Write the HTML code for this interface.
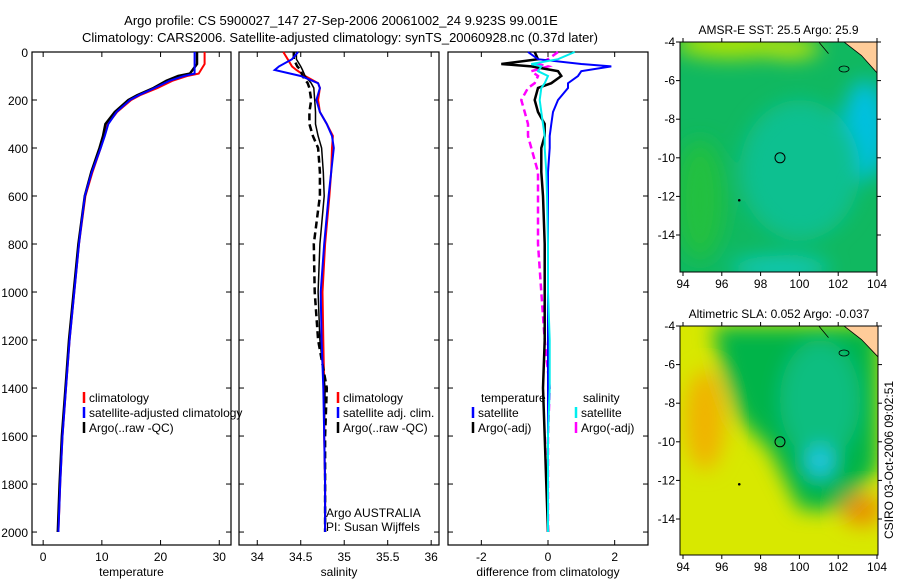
<!DOCTYPE html>
<html><head><meta charset="utf-8"><style>
body{margin:0;background:#fff;}
svg{display:block;font-family:"Liberation Sans",sans-serif;}
</style></head><body>
<svg id="fig" width="900" height="580" viewBox="0 0 900 580">
<defs>
<filter id="blur1" x="-50%" y="-50%" width="200%" height="200%"><feGaussianBlur stdDeviation="10"/></filter>
<clipPath id="m1c"><rect x="680" y="42" width="197" height="230"/></clipPath>
<clipPath id="m2c"><rect x="680" y="326" width="198" height="229"/></clipPath>
</defs>
<text x="341" y="25" font-size="13" text-anchor="middle">Argo profile: CS 5900027_147 27-Sep-2006 20061002_24 9.923S 99.001E</text>
<text x="340" y="42" font-size="13" text-anchor="middle">Climatology: CARS2006. Satellite-adjusted climatology: synTS_20060928.nc (0.37d later)</text>
<g id="maps"></g>
<g id="panels"></g>
<text transform="translate(893,460) rotate(-90)" font-size="12" text-anchor="middle">CSIRO 03-Oct-2006 09:02:51</text>
</svg>
<script>
const NS='http://www.w3.org/2000/svg';
function mk(tag,attrs,parent,txt){const e=document.createElementNS(NS,tag);for(const k in attrs)e.setAttribute(k,attrs[k]);if(txt!==undefined)e.textContent=txt;parent.appendChild(e);return e;}

// ---- data ----
const depthT=[0,50,90,100,120,150,180,200,250,300,350,400,500,600,800,1000,1200,1400,1600,1800,2000];
const tempClim=[27.5,27.5,26.5,24.5,22,19.5,16.5,15,12.6,11,10.4,9.8,8.4,7.2,6.1,5.3,4.5,3.9,3.3,2.9,2.6];
const tempSat=[25.8,25.8,25.8,24,21.5,19,16.3,14.8,12.5,11.1,10.5,9.8,8.3,7.1,6.1,5.3,4.5,3.9,3.3,2.9,2.6];
const tempArgo=[26.2,26.2,25,23,21,18.8,16,14.5,12.2,10.6,10.2,9.6,8.2,7.1,6.0,5.2,4.4,3.8,3.2,2.8,2.5];
const depthS=[0,30,60,75,100,130,150,200,250,300,350,400,500,600,800,1000,1200,1400,1600,1800,2000];
const salClim=[34.3,34.35,34.4,34.45,34.55,34.7,34.72,34.7,34.72,34.8,34.87,34.86,34.85,34.83,34.78,34.75,34.76,34.77,34.77,34.78,34.78];
const salSat=[34.47,34.4,34.25,34.2,34.5,34.7,34.72,34.68,34.72,34.8,34.86,34.88,34.85,34.82,34.77,34.73,34.74,34.76,34.77,34.78,34.78];
const salArgo=[34.45,34.45,34.5,34.52,34.55,34.62,34.65,34.66,34.67,34.67,34.7,34.74,34.76,34.77,34.72,34.7,34.72,34.78,34.77,34.78,34.78];
const salArgoRaw=[34.42,34.42,34.46,34.5,34.52,34.58,34.6,34.62,34.6,34.6,34.64,34.7,34.72,34.72,34.65,34.66,34.7,34.8,34.78,34.78,34.78];
const depthD=[0,30,50,60,80,100,130,150,200,250,300,350,400,500,600,800,1000,1200,1400,1600,1800,2000];
const dTempSat=[-0.6,-0.3,1.0,1.9,1.0,0.9,0.6,0.6,0.3,0.15,0.1,0.05,0.05,0.0,0.0,0.0,0.0,0.0,0.0,0.0,0.0,0.0];
const dTempArgo=[-0.4,-0.3,-1.4,-0.5,0.3,0.4,0.1,-0.3,-0.4,-0.3,-0.1,-0.1,-0.2,-0.2,-0.15,-0.1,-0.1,-0.1,-0.15,-0.1,-0.05,0];
const dSalSat=[0.8,0.3,-0.5,-0.2,-0.3,0,-0.1,-0.2,-0.25,-0.2,-0.15,-0.1,-0.1,-0.05,-0.03,0,0.0,0.05,0.05,0,0,0];
const dSalArgo=[0.3,0.0,-0.3,0.0,-0.5,-0.3,-0.4,-0.6,-0.8,-0.7,-0.6,-0.6,-0.5,-0.3,-0.3,-0.3,-0.2,-0.1,0.05,0,0,0];
const dTickVals=[-2,0,2];
const depthTicks=[0,200,400,600,800,1000,1200,1400,1600,1800,2000];

const Y0=52,Y1=545,DMAX=2054;
const yS=d=>Y0+(Y1-Y0)*d/DMAX;
const G=document.getElementById('panels');

function panel(name,x0,x1,vmin,vmax,ticks,xlabel,showY){
  const g=mk('g',{},G);
  
  
  const xs=v=>x0+(x1-x0)*(v-vmin)/(vmax-vmin);
  const fr=mk('rect',{x:x0,y:Y0,width:x1-x0,height:Y1-Y0,fill:'none',stroke:'#000','stroke-width':1.2},g);
  
  
  depthTicks.forEach(d=>{
    const y=yS(d);
    mk('line',{x1:x0,y1:y,x2:x0+5,y2:y,stroke:'#000'},g);
    mk('line',{x1:x1,y1:y,x2:x1-5,y2:y,stroke:'#000'},g);
    if(showY){const t=mk('text',{x:x0-4,y:y+5,'font-size':12,'text-anchor':'end'},g,String(d));
      
      }
  });
  ticks.forEach(v=>{
    const x=xs(v);
    mk('line',{x1:x,y1:Y1,x2:x,y2:Y1-5,stroke:'#000'},g);
    mk('line',{x1:x,y1:Y0,x2:x,y2:Y0+5,stroke:'#000'},g);
    const t=mk('text',{x:x,y:Y1+16,'font-size':12,'text-anchor':'middle'},g,String(v));
    
    
  });
  const xl=mk('text',{x:(x0+x1)/2,y:576,'font-size':12,'text-anchor':'middle'},g,xlabel);
  
  
  return {g,xs};
}
function line(p,depths,vals,color,w,dash,name){
  const pts=depths.map((d,i)=>p.xs(vals[i]).toFixed(1)+','+yS(d).toFixed(1)).join(' ');
  const e=mk('polyline',{points:pts,fill:'none',stroke:color,'stroke-width':w,'stroke-dasharray':dash||'none'},p.g);
  
  
}
function legend(p,x,y,color,label,name){
  mk('line',{x1:x,y1:y-10,x2:x,y2:y+1,stroke:color,'stroke-width':2.5},p.g);
  const t=mk('text',{x:x+5,y:y,'font-size':12},p.g,label);
  
  
}

const p1=panel('temperature-panel',32,231,-1.9,32,[0,10,20,30],'temperature',true);
line(p1,depthT,tempClim,'#f00',2,null,'temp-climatology-line');
line(p1,depthT,tempArgo,'#000',2.5,null,'temp-argo-line');
line(p1,depthT,tempSat,'#00f',2,null,'temp-satellite-line');
legend(p1,84,402,'#f00','climatology','legend-climatology');
legend(p1,84,417,'#00f','satellite-adjusted climatology','legend-satellite');
legend(p1,84,432,'#000','Argo(..raw -QC)','legend-argo');

const p2=panel('salinity-panel',239,439,33.79,36.09,[34,34.5,35,35.5,36],'salinity',false);
line(p2,depthS,salClim,'#f00',2,null,'sal-climatology-line');
line(p2,depthS,salArgoRaw,'#000',2.5,'7,4','sal-argo-raw-line');
line(p2,depthS,salArgo,'#000',1.5,null,'sal-argo-line');
line(p2,depthS,salSat,'#00f',2,null,'sal-satellite-line');
legend(p2,338,402,'#f00','climatology','legend-sal-climatology');
legend(p2,338,417,'#00f','satellite adj. clim.','legend-sal-satellite');
legend(p2,338,432,'#000','Argo(..raw -QC)','legend-sal-argo');
const a1=mk('text',{x:326,y:517,'font-size':12},p2.g,'Argo AUSTRALIA');

const a2=mk('text',{x:326,y:531,'font-size':12},p2.g,'PI: Susan Wijffels');


const p3=panel('difference-panel',448,648,-3,3,dTickVals,'difference from climatology',false);
line(p3,depthD,dSalArgo,'#f0f',2.5,'7,4','dsal-argo-line');
line(p3,depthD,dTempArgo,'#000',2.5,null,'dtemp-argo-line');
line(p3,depthD,dTempSat,'#00f',2,null,'dtemp-satellite-line');
line(p3,depthD,dSalSat,'#0ee',2,null,'dsal-satellite-line');
const lt=mk('text',{x:481,y:402,'font-size':12},p3.g,'temperature');

const ls=mk('text',{x:583,y:402,'font-size':12},p3.g,'salinity');

legend(p3,473,417,'#00f','satellite','legend-dtemp-sat');
legend(p3,473,432,'#000','Argo(-adj)','legend-dtemp-argo');
legend(p3,576,417,'#0ee','satellite','legend-dsal-sat');
legend(p3,576,432,'#f0f','Argo(-adj)','legend-dsal-argo');

// ---- maps ----
const M=document.getElementById('maps');
const lonTicks=[94,96,98,100,102,104];
const latTicks=[-4,-6,-8,-10,-12,-14];
function map(name,x0,y0,w,h,yTop,yTicks14,title,clip,blobs,base){
  const g=mk('g',{},M);
  
  
  const lx=lon=>683+(877-683)*(lon-94)/10;
  const ly=lat=>yTop+(yTicks14-yTop)*(lat+4)/(-10);
  const c=mk('g',{'clip-path':'url(#'+clip+')'},g);
  mk('rect',{x:x0,y:y0,width:w,height:h,fill:base},c);
  const bg=mk('g',{filter:'url(#blur1)'},c);
  blobs.forEach(b=>{ if(b.pts) mk('polygon',{points:b.pts,fill:b.c},bg); else mk('ellipse',{cx:b.x,cy:b.y,rx:b.rx,ry:b.ry,fill:b.c},bg);});
  const land=mk('polygon',{points:`${lx(102.3)},${y0} ${x0+w},${y0} ${x0+w},${ly(-5.6)} ${lx(103.2)},${ly(-4.7)}`,fill:'#ffcc99',stroke:'#000','stroke-width':0.8},c);
  
  mk('polyline',{points:`${lx(101)},${y0} ${lx(101.5)},${ly(-4.6)}`,fill:'none',stroke:'#000','stroke-width':0.8},c);
  mk('ellipse',{cx:lx(102.3),cy:ly(-5.4),rx:5,ry:3,fill:'none',stroke:'#000','stroke-width':0.8},c);
  mk('circle',{cx:lx(96.9),cy:ly(-12.2),r:1.3,fill:'#000'},c);
  const pc=mk('circle',{cx:lx(99),cy:ly(-10),r:5,fill:'none',stroke:'#000','stroke-width':1},g);
  
  const fr=mk('rect',{x:x0,y:y0,width:w,height:h,fill:'none',stroke:'#000','stroke-width':1},g);
  
  lonTicks.forEach(l=>{const x=lx(l);
    mk('line',{x1:x,y1:y0,x2:x,y2:y0-4,stroke:'#000'},g);
    mk('line',{x1:x,y1:y0+h,x2:x,y2:y0+h+4,stroke:'#000'},g);
    const t=mk('text',{x:x,y:y0+h+16,'font-size':12,'text-anchor':'middle'},g,String(l));
    });
  latTicks.forEach(l=>{const y=ly(l);
    mk('line',{x1:x0,y1:y,x2:x0-4,y2:y,stroke:'#000'},g);
    mk('line',{x1:x0+w,y1:y,x2:x0+w+4,y2:y,stroke:'#000'},g);
    const t=mk('text',{x:x0-5,y:y+4,'font-size':12,'text-anchor':'end'},g,String(l));
    });
  const tt=mk('text',{x:x0+w/2,y:y0-8,'font-size':12,'text-anchor':'middle'},g,title);
  
}
map('sst-map',680,42,197,230,42,235,'AMSR-E SST: 25.5 Argo: 25.9','m1c',[
  {x:730,y:44,rx:55,ry:14,c:'#b0e400'},
  {x:790,y:48,rx:30,ry:10,c:'#c8e800'},
  {x:700,y:200,rx:25,ry:60,c:'#20c040'},
  {x:865,y:130,rx:22,ry:50,c:'#00c0e0'},
  {x:800,y:170,rx:60,ry:70,c:'#10c090'},
  {x:780,y:268,rx:50,ry:12,c:'#10c8b8'}
],'#10b860');
map('sla-map',680,326,198,229,326,519,'Altimetric SLA: 0.052 Argo: -0.037','m2c',[
  {pts:'712,326 878,326 878,470 840,510 800,510 770,450 740,420 725,380',c:'#00b448'},
  {x:820,y:400,rx:40,ry:60,c:'#10be80'},
  {x:820,y:462,rx:14,ry:16,c:'#20c8e8'},
  {x:705,y:420,rx:20,ry:50,c:'#f0b400'},
  {x:862,y:510,rx:20,ry:16,c:'#e89000'}
],'#d8e800');
</script>
</body></html>
